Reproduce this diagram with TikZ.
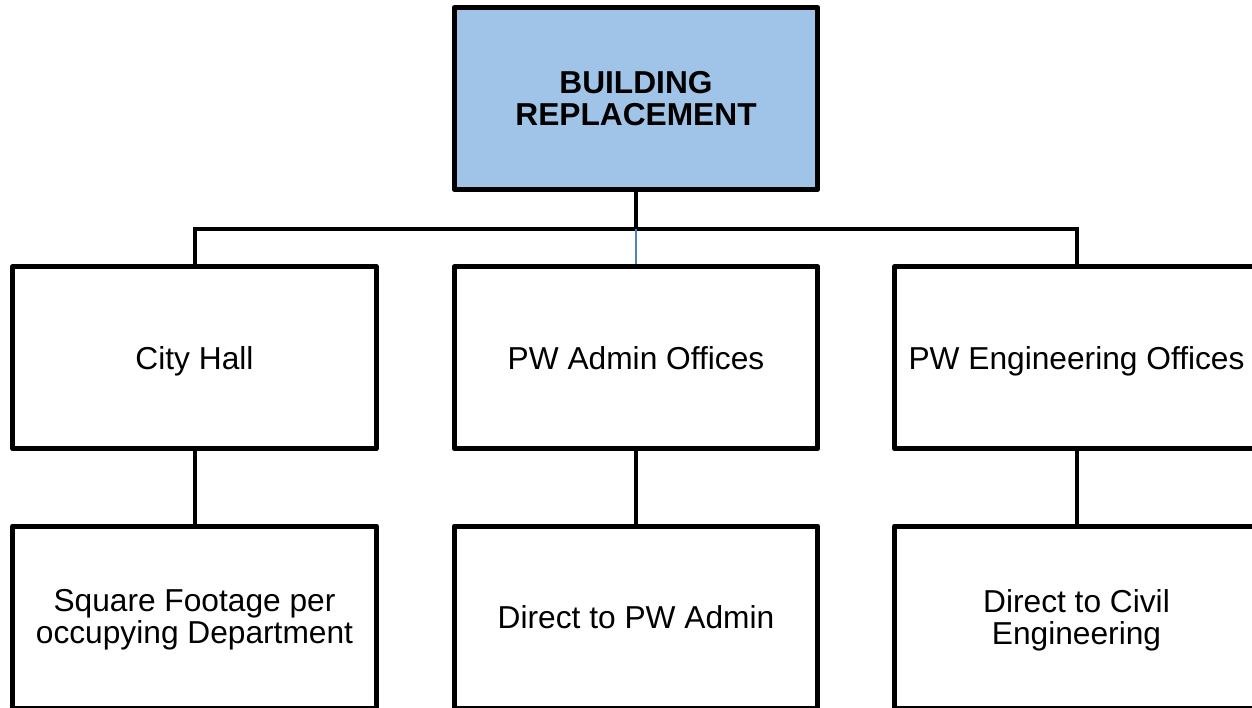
\documentclass[tikz,border=0pt]{standalone}
\usepackage{fontspec}
\setmainfont{Liberation Sans}
\begin{document}
\begin{tikzpicture}[x=1pt,y=-1pt,
  box/.style={draw=black,line width=5pt,line join=round,fill=white,inner sep=0pt,
    minimum width=363.5pt,minimum height=182pt,align=center,
    font=\fontsize{31.7}{32}\selectfont},
  oneline/.style={text height=22.8pt,text depth=0pt},
  twoline/.style={text depth=0.5pt},
  topbox/.style={box,fill=topblue,font=\fontsize{31.7}{31.5}\selectfont\bfseries},
  conn/.style={draw=black,line width=4pt},
  thinconn/.style={draw=thinblue,line width=1.5pt}]
\definecolor{topblue}{RGB}{160,196,232}
\definecolor{thinblue}{RGB}{79,129,189}
\useasboundingbox (0,0) rectangle (1252,708);
\node[topbox] (top) at (636,98.75) {BUILDING\\REPLACEMENT};
\node[box,oneline] (a1) at (194.5,357.75) {City Hall};
\node[box,oneline] (b1) at (636,357.75) {PW Admin Offices};
\node[box,oneline] (c1) at (1076.5,357.75) {PW Engineering Offices};
\node[box,twoline] (a2) at (194.5,617) {Square Footage per\\occupying Department};
\node[box,oneline] (b2) at (636,617) {Direct to PW Admin};
\node[box,twoline] (c2) at (1076.5,617) {Direct to Civil\\Engineering};
\coordinate (bar) at (636,229);
\draw[conn] (top.south) -- (bar);
\draw[conn] (a1.north) -- (a1.north |- bar) -- (c1.north |- bar) -- (c1.north);
\draw[thinconn] (bar) -- (b1.north);
\draw[conn] (a1.south) -- (a2.north);
\draw[conn] (b1.south) -- (b2.north);
\draw[conn] (c1.south) -- (c2.north);
\end{tikzpicture}
\end{document}
